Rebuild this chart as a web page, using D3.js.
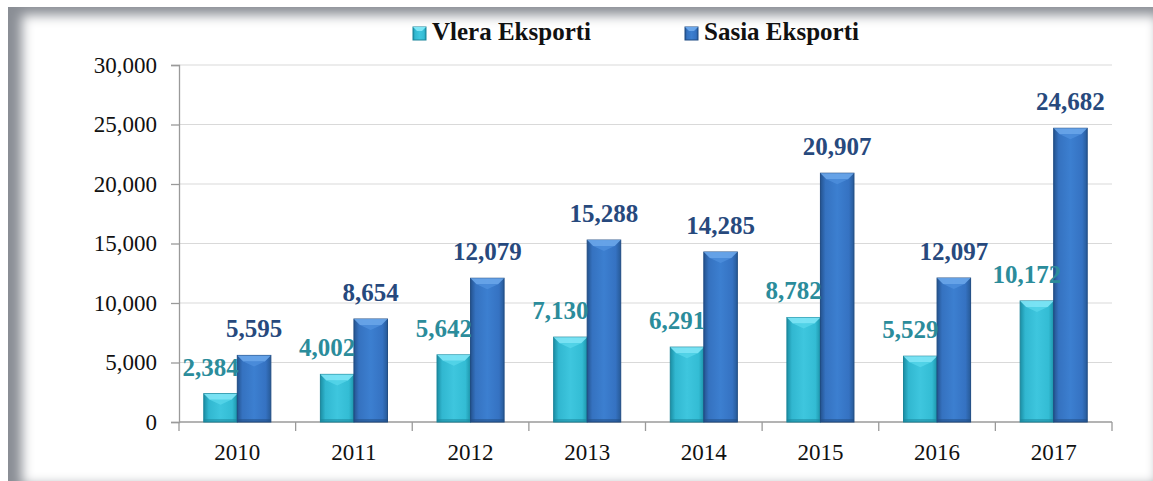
<!DOCTYPE html>
<html lang="en">
  <head>
    <meta charset="utf-8">
    <title>Eksporti 2010-2017</title>
    <script src="https://unpkg.com/d3@7/dist/d3.min.js"></script>
    <style type="text/css">
body,html{
    margin: 0;
    padding: 0;
    background: #fff;
  }
svg text{
    font-family: "Liberation Serif", "Times New Roman", serif;
  }
    </style>
  </head>
  <body>
    <script type="text/javascript">
      const years = ["2010", "2011", "2012", "2013", "2014", "2015", "2016", "2017"];
      const vlera = [2384, 4002, 5642, 7130, 6291, 8782, 5529, 10172];
      const sasia = [5595, 8654, 12079, 15288, 14285, 20907, 12097, 24682];
      const seriesNames = ["Vlera Eksporti", "Sasia Eksporti"];
      const yTicks = [0, 5000, 10000, 15000, 20000, 25000, 30000];

      const w = 1153;
      const h = 481;
      const margin = {top: 65, bottom: 59, left: 179, right: 41};

      const svg = d3.select("body")
        .append("svg")
        .attr("width", w)
        .attr("height", h);

      const defs = svg.append("defs");

      // bar gradients (dark edges, lighter middle)
      const grads = [
        {id: "gCyan", stops: ["#1b8ea4", "#31b7d0", "#3ec6de", "#33bcd4", "#1d94aa"]},
        {id: "gBlue", stops: ["#24538f", "#3572c0", "#3c7fd0", "#3572c2", "#275a98"]}
      ];
      grads.forEach(g => {
        const lg = defs.append("linearGradient").attr("id", g.id)
          .attr("x1", "0").attr("x2", "1").attr("y1", "0").attr("y2", "0");
        [0, 0.15, 0.5, 0.85, 1].forEach((o, i) => {
          lg.append("stop").attr("offset", o).attr("stop-color", g.stops[i]);
        });
      });

      const blur = defs.append("filter").attr("id", "soft")
        .attr("filterUnits", "userSpaceOnUse")
        .attr("x", 0).attr("y", 0).attr("width", 1200).attr("height", 520);
      blur.append("feGaussianBlur").attr("stdDeviation", 6);

      // frame: grey plate with a blurred white panel on it (inner shadow)
      svg.append("rect")
        .attr("x", 8).attr("y", 7)
        .attr("width", 1150).attr("height", 480)
        .attr("fill", "#8a8e95");
      svg.append("rect")
        .attr("x", 22).attr("y", 15)
        .attr("width", 1136).attr("height", 470)
        .attr("fill", "#fff")
        .attr("filter", "url(#soft)");

      const x0 = d3.scaleBand()
        .domain(years)
        .range([margin.left, w - margin.right])
        .paddingInner(0.425)
        .paddingOuter(0.2125);

      const x1 = d3.scaleBand()
        .domain([0, 1])
        .range([0, x0.bandwidth()]);

      const y = d3.scaleLinear()
        .domain([0, 30000])
        .range([h - margin.bottom, margin.top]);

      const fmt = d3.format(",");

      // gridlines
      svg.append("g")
        .selectAll("line")
        .data(yTicks.slice(1))
        .join("line")
        .attr("x1", margin.left).attr("x2", w - margin.right)
        .attr("y1", d => y(d)).attr("y2", d => y(d))
        .attr("stroke", "#d9d9d9")
        .attr("stroke-width", 1.2);

      // y axis
      const yAxis = svg.append("g")
        .attr("transform", `translate(${margin.left},0)`)
        .call(d3.axisLeft(y).tickValues(yTicks).tickFormat(fmt).tickSize(8).tickPadding(14));
      yAxis.select(".domain").attr("stroke", "#9a9a9a").attr("stroke-width", 1.3);
      yAxis.selectAll(".tick line").attr("stroke", "#9a9a9a").attr("stroke-width", 1.3);
      yAxis.selectAll(".tick text")
        .attr("font-size", 23)
        .attr("fill", "#111");

      // x axis with ticks at band boundaries
      const xAxisG = svg.append("g")
        .attr("transform", `translate(0,${y(0)})`);
      xAxisG.append("line")
        .attr("x1", margin.left).attr("x2", w - margin.right)
        .attr("stroke", "#9a9a9a").attr("stroke-width", 1.3);
      const step = x0.step();
      xAxisG.selectAll("line.tk")
        .data(d3.range(years.length + 1))
        .join("line")
        .attr("class", "tk")
        .attr("x1", i => margin.left + i * step)
        .attr("x2", i => margin.left + i * step)
        .attr("y1", 0).attr("y2", 9)
        .attr("stroke", "#9a9a9a").attr("stroke-width", 1.3);
      xAxisG.selectAll("text")
        .data(years)
        .join("text")
        .attr("x", d => x0(d) + x0.bandwidth() / 2)
        .attr("y", 38)
        .attr("text-anchor", "middle")
        .attr("font-size", 23)
        .attr("fill", "#111")
        .text(d => d);

      // bars
      const barData = [];
      years.forEach((yr, i) => {
        barData.push({year: yr, s: 0, v: vlera[i]});
        barData.push({year: yr, s: 1, v: sasia[i]});
      });

      const edge = ["#1a8499", "#1f4b82"];
      const topFace = ["#7fe6f6", "#6aa6ea"];
      const bw = x1.bandwidth();
      const bev = 6;

      const bars = svg.append("g")
        .selectAll("g")
        .data(barData)
        .join("g")
        .attr("transform", d => `translate(${x0(d.year) + x1(d.s)},${y(d.v)})`);

      bars.append("rect")
        .attr("width", bw)
        .attr("height", d => y(0) - y(d.v))
        .attr("fill", d => d.s ? "url(#gBlue)" : "url(#gCyan)")
        .attr("stroke", d => edge[d.s])
        .attr("stroke-width", 1);

      bars.append("path")
        .attr("d", `M0,0 L${bw},0 L${bw - bev},${bev} L${bev},${bev} Z`)
        .attr("fill", d => topFace[d.s])
        .attr("opacity", 0.9);
      bars.append("path")
        .attr("d", `M${bev},${bev} L${bw / 2},${bev + 5} L${bw - bev},${bev} Z`)
        .attr("fill", d => d.s ? "#4d8fdc" : "#56d6ea")
        .attr("opacity", 0.8);
      bars.append("rect")
        .attr("y", d => y(0) - y(d.v) - 3)
        .attr("width", bw)
        .attr("height", 3)
        .attr("fill", d => edge[d.s])
        .attr("opacity", 0.5);

      // data labels
      const labelColor = ["#2b8c9b", "#27497d"];
      svg.append("g")
        .selectAll("text")
        .data(barData)
        .join("text")
        .attr("x", d => x0(d.year) + x1(d.s) + bw / 2 - (d.s ? 0 : 10))
        .attr("y", d => y(d.v) - 18)
        .attr("text-anchor", "middle")
        .attr("font-size", 25)
        .attr("font-weight", "bold")
        .attr("fill", d => labelColor[d.s])
        .text(d => fmt(d.v));

      // legend
      const legX = [413, 685];
      const legend = svg.append("g")
        .selectAll("g")
        .data(seriesNames)
        .join("g")
        .attr("transform", (d, i) => `translate(${legX[i]},27)`);
      legend.append("rect")
        .attr("width", 13).attr("height", 13)
        .attr("fill", (d, i) => i ? "url(#gBlue)" : "url(#gCyan)")
        .attr("stroke", (d, i) => edge[i]);
      legend.append("path")
        .attr("d", "M0,0 L13,0 L9,4 L4,4 Z")
        .attr("fill", (d, i) => topFace[i]);
      legend.append("text")
        .attr("x", 19).attr("y", 13)
        .attr("font-size", 25)
        .attr("font-weight", "bold")
        .attr("fill", "#111")
        .text(d => d);
    </script>
  </body>
</html>
